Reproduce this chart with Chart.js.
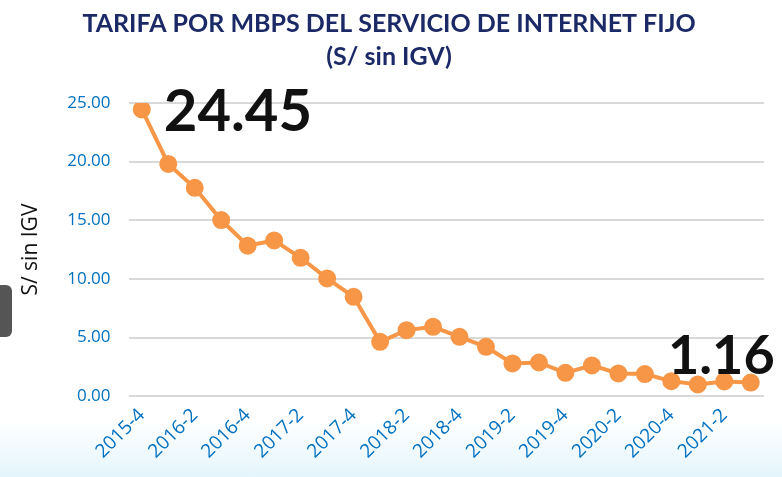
<!DOCTYPE html>
<html>
<head>
<meta charset="utf-8">
<script src="https://cdn.jsdelivr.net/npm/chart.js@4"></script>
<style>
  html, body { margin: 0; padding: 0; overflow: hidden; }
  body {
    width: 782px; height: 477px; position: relative;
    background: linear-gradient(to bottom, #ffffff 0px, #ffffff 420px, #e4f5fc 477px);
  }
  #wrap { position: absolute; left: 0; top: 0; width: 782px; height: 477px; }
  .tab {
    position: absolute; left: -10px; top: 285px; width: 22px; height: 52px;
    background: #555555; border-radius: 6px;
  }
</style>
</head>
<body>
<div id="wrap"><canvas id="tarifaChart" width="782" height="477"></canvas></div>
<div class="tab"></div>
<script>
const periods = ['2015-4','2016-1','2016-2','2016-3','2016-4','2017-1','2017-2','2017-3',
  '2017-4','2018-1','2018-2','2018-3','2018-4','2019-1','2019-2','2019-3',
  '2019-4','2020-1','2020-2','2020-3','2020-4','2021-1','2021-2','2021-3'];
const tarifa = [24.45, 19.8, 17.77, 15.02, 12.83, 13.28, 11.8, 10.04,
  8.47, 4.63, 5.63, 5.91, 5.06, 4.21, 2.79, 2.87,
  1.99, 2.62, 1.94, 1.88, 1.28, 1.0, 1.25, 1.16];
const yTicks = [0, 5, 10, 15, 20, 25];

// big labels on first and last point
const bigLabels = {
  id: 'bigLabels',
  afterDatasetsDraw(chart) {
    const ctx = chart.ctx;
    const meta = chart.getDatasetMeta(0);
    const first = meta.data[0];
    const last = meta.data[meta.data.length - 1];
    ctx.save();
    ctx.fillStyle = '#111111';
    ctx.textBaseline = 'alphabetic';
    ctx.font = 'bold 58px Lato';
    ctx.textAlign = 'left';
    ctx.fillText(tarifa[0].toFixed(2), first.x + 22, first.y + 22);
    ctx.font = 'bold 54px Lato';
    ctx.textAlign = 'right';
    ctx.fillText(tarifa[tarifa.length - 1].toFixed(2), last.x + 24, last.y - 9);
    ctx.restore();
  }
};

const ctx = document.getElementById('tarifaChart');
new Chart(ctx, {
  type: 'line',
  data: {
    labels: periods,
    datasets: [{
      data: tarifa,
      borderColor: '#F79646',
      backgroundColor: '#F79646',
      borderWidth: 4,
      pointRadius: 7,
      pointHoverRadius: 7,
      tension: 0,
      fill: false
    }]
  },
  options: {
    responsive: false,
    animation: false,
    layout: { padding: { left: 14, right: 18, top: 0, bottom: 6 } },
    plugins: {
      legend: { display: false },
      tooltip: { enabled: false },
      title: {
        display: true,
        text: ['TARIFA POR MBPS DEL SERVICIO DE INTERNET FIJO', '(S/ sin IGV)'],
        color: '#1B2A66',
        font: { family: 'Lato', size: 25, weight: 'bold', lineHeight: 1.3 },
        padding: { top: 8, bottom: 30 }
      }
    },
    scales: {
      x: {
        offset: true,
        grid: { display: false, drawTicks: false },
        border: { display: false },
        ticks: {
          autoSkip: false,
          minRotation: 45,
          maxRotation: 45,
          padding: 8,
          color: '#0070C0',
          font: { family: 'Open Sans', size: 19 },
          callback: (v, i) => (i % 2 === 0 ? periods[i] : '')
        }
      },
      y: {
        min: 0,
        max: 25,
        afterBuildTicks: axis => { axis.ticks = yTicks.map(v => ({ value: v })); },
        grid: { color: '#D9D9D9', lineWidth: 2, drawTicks: false },
        border: { display: false },
        title: {
          display: true,
          text: 'S/ sin IGV',
          color: '#111111',
          font: { family: 'Open Sans', size: 21 },
          padding: { bottom: 6 }
        },
        ticks: {
          padding: 18,
          color: '#0070C0',
          font: { family: 'Open Sans', size: 17 },
          callback: v => v.toFixed(2)
        }
      }
    }
  },
  plugins: [bigLabels]
});
</script>
</body>
</html>
